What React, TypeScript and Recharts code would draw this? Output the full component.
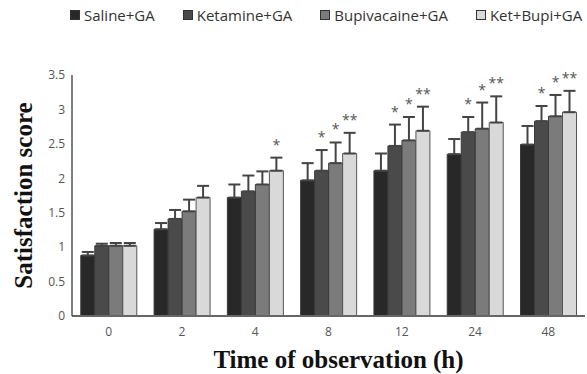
import { Bar, BarChart, ErrorBar, LabelList, Legend, XAxis, YAxis } from "recharts"

const groups = ["0", "2", "4", "8", "12", "24", "48"]
const seriesNames = ["Saline+GA", "Ketamine+GA", "Bupivacaine+GA", "Ket+Bupi+GA"]
const seriesColors = ["#282828", "#4a4a4a", "#7b7b7b", "#d9d9d9"]

const saline = [0.88, 1.26, 1.72, 1.97, 2.11, 2.35, 2.49]
const salineErr = [0.05, 0.09, 0.19, 0.25, 0.25, 0.22, 0.27]
const ketamine = [1.02, 1.41, 1.81, 2.11, 2.47, 2.67, 2.83]
const ketamineErr = [0.03, 0.13, 0.23, 0.3, 0.31, 0.22, 0.22]
const bupivacaine = [1.02, 1.52, 1.91, 2.22, 2.55, 2.72, 2.9]
const bupivacaineErr = [0.04, 0.17, 0.19, 0.3, 0.34, 0.38, 0.31]
const ketBupi = [1.02, 1.72, 2.11, 2.36, 2.69, 2.81, 2.96]
const ketBupiErr = [0.04, 0.17, 0.19, 0.3, 0.35, 0.38, 0.31]

const ketamineSig = ["", "", "", "*", "*", "*", "*"]
const bupivacaineSig = ["", "", "", "*", "*", "*", "*"]
const ketBupiSig = ["", "", "*", "**", "**", "**", "**"]

const yTicks = [0, 0.5, 1, 1.5, 2, 2.5, 3, 3.5]

const data = groups.map((g, i) => ({
  time: g,
  saline: saline[i],
  salineErr: [0, salineErr[i]],
  ketamine: ketamine[i],
  ketamineErr: [0, ketamineErr[i]],
  ketamineSig: ketamineSig[i],
  bupivacaine: bupivacaine[i],
  bupivacaineErr: [0, bupivacaineErr[i]],
  bupivacaineSig: bupivacaineSig[i],
  ketBupi: ketBupi[i],
  ketBupiErr: [0, ketBupiErr[i]],
  ketBupiSig: ketBupiSig[i],
}))

const sans = "'Open Sans', sans-serif"
const serif = "'Liberation Serif', 'Times New Roman', serif"

// asterisks sit a little above the top of each error whisker
function sigLabel(values: number[], errs: number[]) {
  return (props: any) => {
    const { x, y, width, height, value, index } = props
    if (!value) return null
    const perUnit = height / values[index]
    const top = y - errs[index] * perUnit
    return (
      <text
        x={x + width / 2}
        y={top - 8}
        textAnchor="middle"
        fontFamily={sans}
        fontSize={14}
        fill="#555"
      >
        {value}
      </text>
    )
  }
}

// keep the legend in series order (recharts sorts it by name otherwise)
function LegendBox() {
  return (
    <div style={{ display: "flex", gap: 28, paddingLeft: 70, fontFamily: sans, fontSize: 15, color: "#333" }}>
      {seriesNames.map((name, i) => (
        <div key={name} style={{ display: "flex", alignItems: "center", whiteSpace: "nowrap" }}>
          <span
            style={{
              width: 8,
              height: 8,
              background: seriesColors[i],
              border: "1px solid #333",
              marginRight: 4,
              display: "inline-block",
            }}
          />
          {name}
        </div>
      ))}
    </div>
  )
}

export default function App() {
  const barStroke = "#3a3a3a"
  return (
    <div style={{ position: "absolute", left: 0, top: 0, width: 587, height: 374, background: "#fff", overflow: "hidden" }}>
      <BarChart
        width={587}
        height={374}
        data={data}
        margin={{ top: 55, right: 2, bottom: 0, left: 0 }}
        barGap={0}
        barCategoryGap="12%"
      >
        <Legend
          verticalAlign="top"
          align="left"
          content={<LegendBox />}
          wrapperStyle={{ top: 5, left: 0, width: 620 }}
        />
        <XAxis
          dataKey="time"
          height={58}
          tickLine={false}
          tickSize={0}
          tickMargin={11}
          axisLine={{ stroke: "#666", strokeWidth: 2 }}
          tick={{ fill: "#555", fontSize: 12, fontFamily: sans }}
          label={{
            value: "Time of observation (h)",
            position: "center",
            dx: 10,
            dy: 14,
            fill: "#111",
            fontSize: 25,
            fontWeight: "bold",
            fontFamily: serif,
          }}
        />
        <YAxis
          width={72}
          domain={[0, 3.5]}
          ticks={yTicks}
          tickLine={false}
          tickSize={0}
          tickMargin={7}
          axisLine={{ stroke: "#555", strokeWidth: 1.5 }}
          tick={{ fill: "#555", fontSize: 12, fontFamily: sans }}
          label={{
            value: "Satisfaction score",
            angle: -90,
            position: "center",
            dx: -13,
            fill: "#111",
            fontSize: 25,
            fontWeight: "bold",
            fontFamily: serif,
          }}
        />
        <Bar dataKey="saline" name={seriesNames[0]} fill={seriesColors[0]} stroke={barStroke} isAnimationActive={false}>
          <ErrorBar dataKey="salineErr" width={6} stroke="#444" strokeWidth={2} />
        </Bar>
        <Bar dataKey="ketamine" name={seriesNames[1]} fill={seriesColors[1]} stroke={barStroke} isAnimationActive={false}>
          <ErrorBar dataKey="ketamineErr" width={6} stroke="#444" strokeWidth={2} />
          <LabelList dataKey="ketamineSig" content={sigLabel(ketamine, ketamineErr)} />
        </Bar>
        <Bar dataKey="bupivacaine" name={seriesNames[2]} fill={seriesColors[2]} stroke={barStroke} isAnimationActive={false}>
          <ErrorBar dataKey="bupivacaineErr" width={6} stroke="#444" strokeWidth={2} />
          <LabelList dataKey="bupivacaineSig" content={sigLabel(bupivacaine, bupivacaineErr)} />
        </Bar>
        <Bar dataKey="ketBupi" name={seriesNames[3]} fill={seriesColors[3]} stroke="#555" isAnimationActive={false}>
          <ErrorBar dataKey="ketBupiErr" width={6} stroke="#444" strokeWidth={2} />
          <LabelList dataKey="ketBupiSig" content={sigLabel(ketBupi, ketBupiErr)} />
        </Bar>
      </BarChart>
    </div>
  )
}
